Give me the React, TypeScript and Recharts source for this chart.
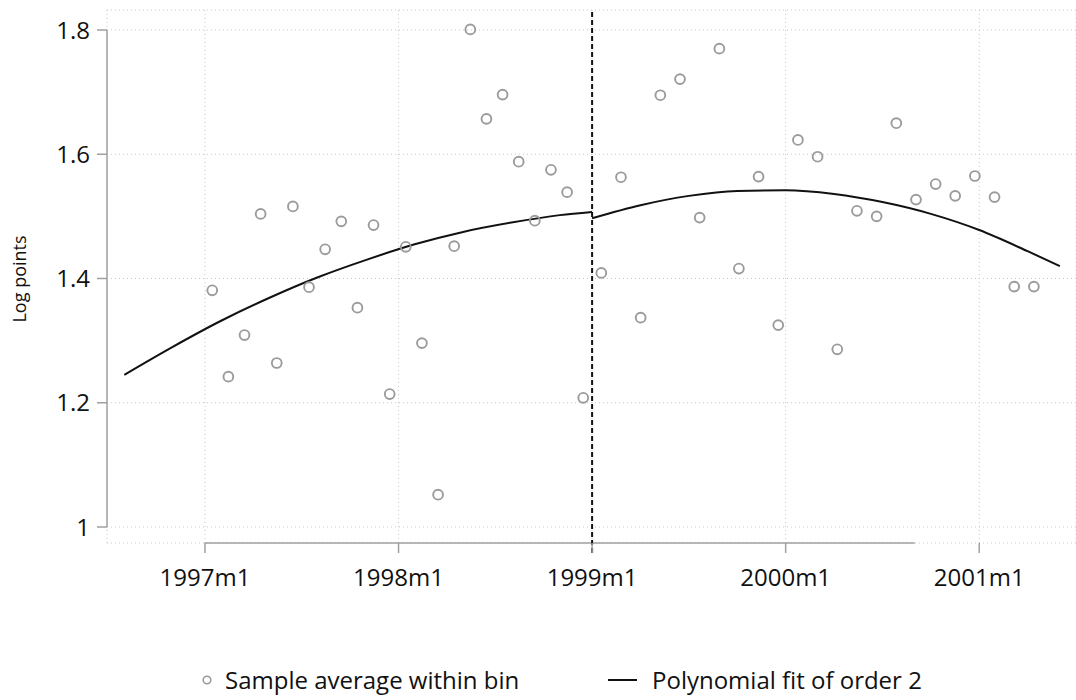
import React from "react";
import {
  ComposedChart,
  Scatter,
  Line,
  XAxis,
  YAxis,
  CartesianGrid,
  ReferenceLine,
} from "recharts";

// bin averages, x in months since 1997m1
const leftBinX = [0.45, 1.45, 2.45, 3.45, 4.45, 5.45, 6.45, 7.45, 8.45, 9.45, 10.45, 11.45, 12.45, 13.45, 14.45, 15.45, 16.45, 17.45, 18.45, 19.45, 20.45, 21.45, 22.45, 23.45];
const leftBinY = [1.381, 1.242, 1.309, 1.504, 1.264, 1.516, 1.386, 1.447, 1.492, 1.353, 1.486, 1.214, 1.451, 1.296, 1.052, 1.452, 1.801, 1.657, 1.696, 1.588, 1.493, 1.575, 1.539, 1.208];

const rightBinX = [24.57, 25.79, 27.01, 28.23, 29.45, 30.67, 31.89, 33.1, 34.32, 35.54, 36.76, 37.98, 39.2, 40.42, 41.64, 42.86, 44.08, 45.3, 46.51, 47.73, 48.95, 50.17, 51.39];
const rightBinY = [1.409, 1.563, 1.337, 1.695, 1.721, 1.498, 1.77, 1.416, 1.564, 1.325, 1.623, 1.596, 1.286, 1.509, 1.5, 1.65, 1.527, 1.552, 1.533, 1.565, 1.531, 1.387, 1.387];

// polynomial fit
const leftFitX = [-5, -2, 1, 4, 7, 10, 13, 16, 19, 22, 24];
const leftFitY = [1.245, 1.29, 1.332, 1.369, 1.402, 1.43, 1.455, 1.475, 1.49, 1.502, 1.507];
const rightFitX = [24, 27, 30, 33, 36, 39, 42, 45, 48, 51, 53];
const rightFitY = [1.497, 1.518, 1.533, 1.541, 1.542, 1.536, 1.523, 1.504, 1.478, 1.444, 1.42];

const xTicks = [0, 12, 24, 36, 48];
const xTickLabels = ["1997m1", "1998m1", "1999m1", "2000m1", "2001m1"];
const yTicks = [1, 1.2, 1.4, 1.6, 1.8];

const cutoff = 24;
const xAxisEnd = 44;

const X_DOMAIN: [number, number] = [-6.075, 54.0];
const Y_DOMAIN: [number, number] = [0.97425, 1.83219];

const FONT = "'Open Sans', sans-serif";

const pairs = (xs: number[], ys: number[]) => xs.map((t, i) => ({ t, v: ys[i] }));

const Hollow = (props: any) => (
  <circle cx={props.cx} cy={props.cy} r={4.9} fill="none" stroke="#9b9b9b" strokeWidth={1.9} />
);

export default function App() {
  return (
    <div style={{ position: "absolute", left: 0, top: 0, width: 1076, height: 700, background: "#fff", fontFamily: FONT }}>
      <ComposedChart width={1076} height={700} margin={{ top: 10, right: 0, left: 0, bottom: 107 }}>
        <CartesianGrid stroke="#c8c8c8" strokeDasharray="1 3" />
        <XAxis
          dataKey="t"
          type="number"
          domain={X_DOMAIN}
          allowDataOverflow
          ticks={xTicks}
          tickFormatter={(v: number) => xTickLabels[xTicks.indexOf(v)] ?? ""}
          axisLine={false}
          tickLine={{ stroke: "#a0a0a0", strokeWidth: 1.5 }}
          tickSize={10}
          tickMargin={16}
          height={50}
          tick={{ fill: "#111", fontSize: 24, fontFamily: FONT }}
        />
        <YAxis
          type="number"
          domain={Y_DOMAIN}
          allowDataOverflow
          ticks={yTicks}
          tickFormatter={(v: number) => (v === 1 ? "1" : v.toFixed(1))}
          axisLine={false}
          tickLine={{ stroke: "#a0a0a0", strokeWidth: 1.5 }}
          tickSize={10}
          tickMargin={7}
          width={107}
          tick={{ fill: "#111", fontSize: 24, fontFamily: FONT }}
          label={{
            value: "Log points",
            content: () => (
              <text x={19} y={279} transform="rotate(-90, 19, 279)" textAnchor="middle" dominantBaseline="central" fontSize={18} fontFamily={FONT} fill="#111">
                Log points
              </text>
            ),
          }}
        />
        <ReferenceLine
          segment={[{ x: X_DOMAIN[0], y: yTicks[0] }, { x: X_DOMAIN[0], y: yTicks[yTicks.length - 1] }]}
          stroke="#a0a0a0"
          strokeWidth={1.5}
          ifOverflow="visible"
        />
        <ReferenceLine
          segment={[{ x: xTicks[0], y: Y_DOMAIN[0] }, { x: xAxisEnd, y: Y_DOMAIN[0] }]}
          stroke="#a0a0a0"
          strokeWidth={1.5}
          ifOverflow="visible"
        />
        <ReferenceLine
          segment={[{ x: cutoff, y: 0.958 }, { x: cutoff, y: Y_DOMAIN[1] }]}
          stroke="#111"
          strokeWidth={2}
          strokeDasharray="5 3"
          ifOverflow="visible"
        />
        <Scatter data={pairs(leftBinX, leftBinY)} dataKey="v" shape={Hollow} isAnimationActive={false} />
        <Scatter data={pairs(rightBinX, rightBinY)} dataKey="v" shape={Hollow} isAnimationActive={false} />
        <Line data={pairs(leftFitX, leftFitY)} dataKey="v" type="monotone" dot={false} stroke="#111" strokeWidth={2} isAnimationActive={false} />
        <Line data={pairs(rightFitX, rightFitY)} dataKey="v" type="monotone" dot={false} stroke="#111" strokeWidth={2} isAnimationActive={false} />
      </ComposedChart>
      <div style={{ position: "absolute", top: 664, left: 0, width: 1076, height: 32, fontSize: 24, color: "#111" }}>
        <svg width={1076} height={32} style={{ position: "absolute", left: 0, top: 0 }}>
          <circle cx={207} cy={16} r={3.8} fill="none" stroke="#9b9b9b" strokeWidth={1.6} />
          <line x1={608} y1={16} x2={637} y2={16} stroke="#111" strokeWidth={2} />
        </svg>
        <span style={{ position: "absolute", left: 225, top: 0, lineHeight: "32px", whiteSpace: "nowrap" }}>Sample average within bin</span>
        <span style={{ position: "absolute", left: 652, top: 0, lineHeight: "32px", whiteSpace: "nowrap" }}>Polynomial fit of order 2</span>
      </div>
    </div>
  );
}
